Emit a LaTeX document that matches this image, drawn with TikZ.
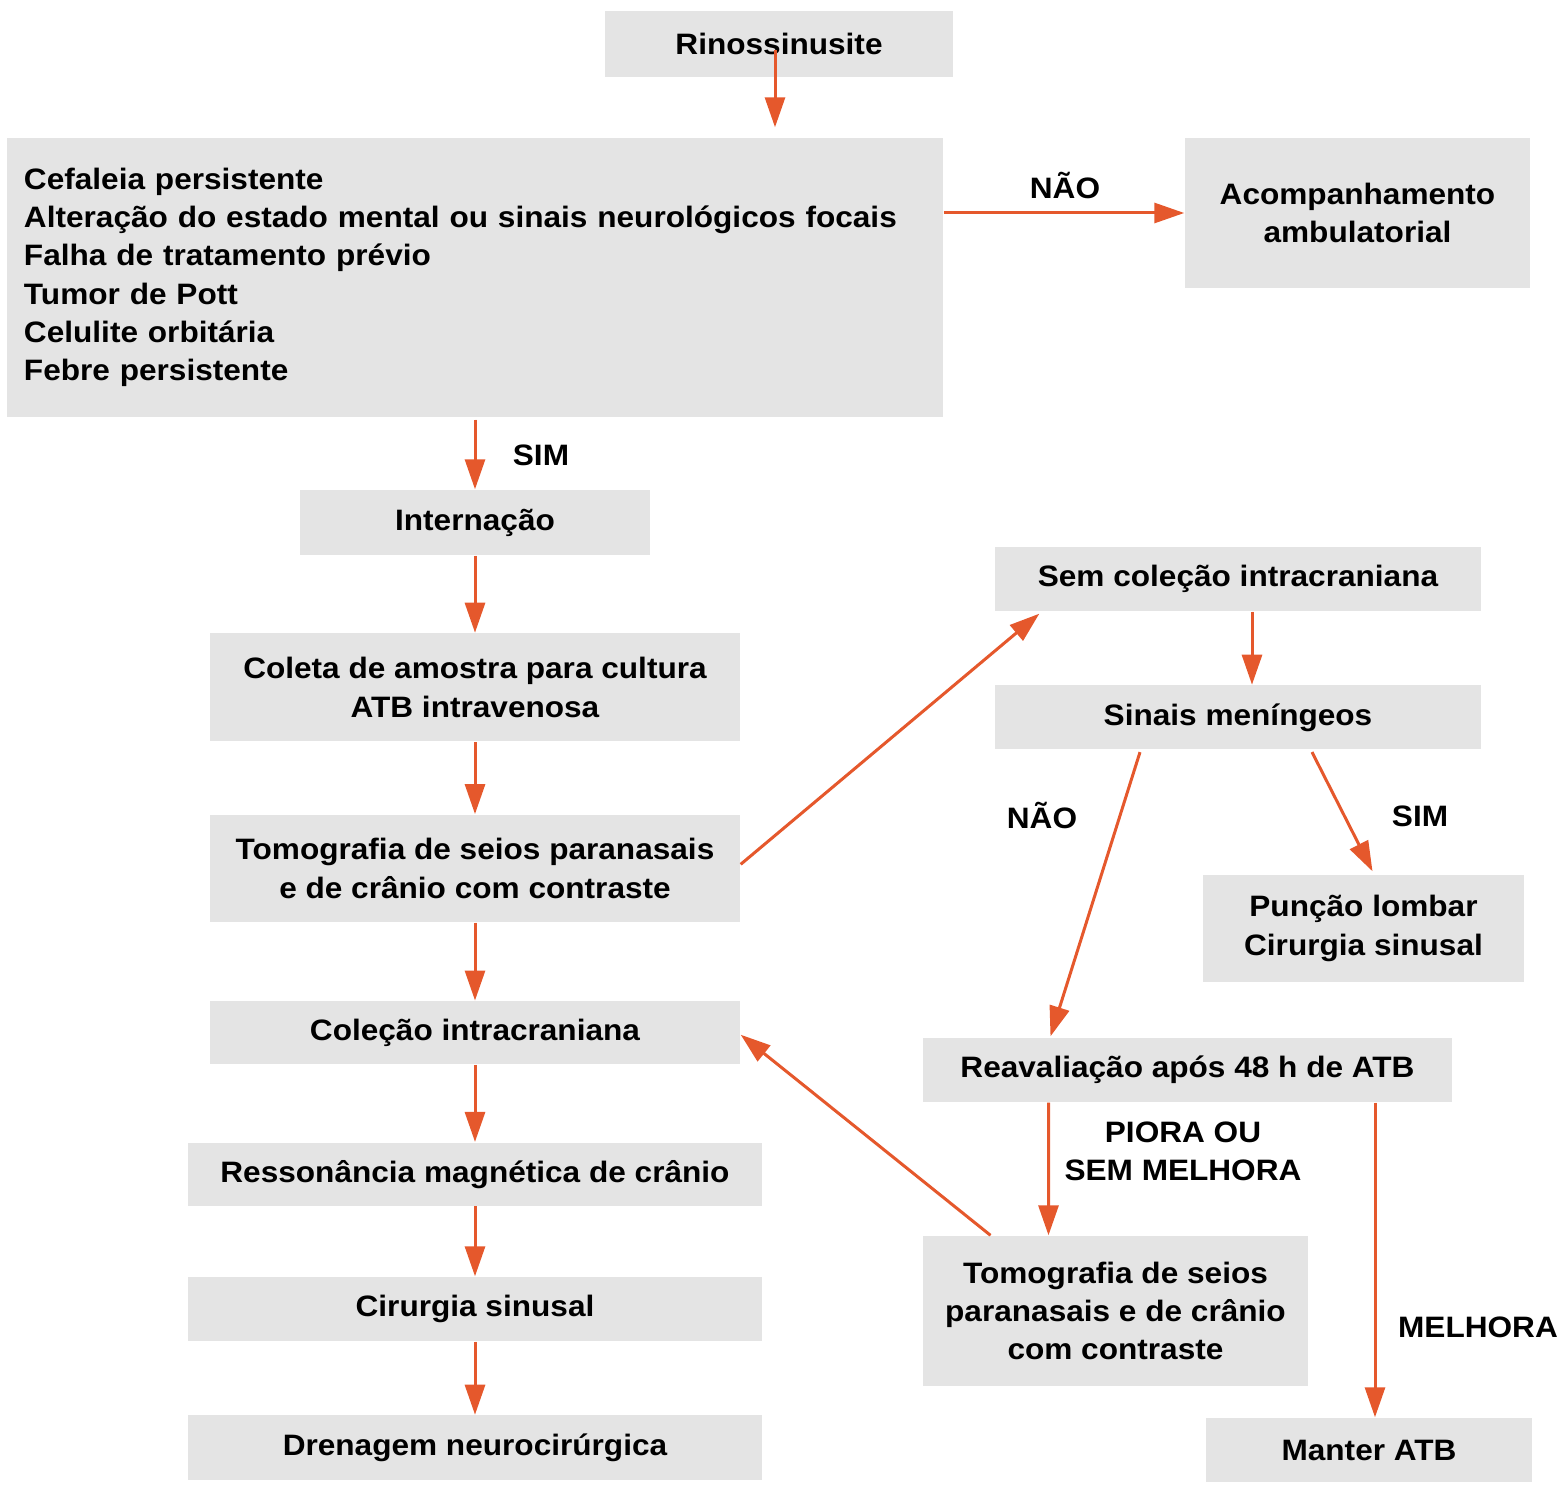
\documentclass[tikz,border=0pt]{standalone}
\usepackage{fontspec}
\setmainfont{Liberation Sans}[FakeStretch=1.07]
\usepackage{tikz}
\usetikzlibrary{arrows.meta, positioning, calc}

\definecolor{boxgray}{RGB}{228,228,228}
\definecolor{arrowred}{RGB}{229,88,44}

\begin{document}
\begin{tikzpicture}[
    % Styles
    flowbox/.style={fill=boxgray, inner sep=0pt, align=center, font=\fontsize{8.4}{10.9}\selectfont\bfseries},
    flowlabel/.style={inner sep=0pt, align=center, font=\fontsize{8.4}{10.9}\selectfont\bfseries},
    flowarrow/.style={-{Triangle[length=0.3cm, width=0.2cm]}, draw=arrowred, fill=arrowred, line width=0.03cm},
    node distance=0.75cm
]
    \useasboundingbox (0,0) rectangle (15.61,-14.87);

    % Top: Rinossinusite and criteria
    \node[flowbox, minimum width=3.48cm, minimum height=0.66cm] (rino) at (7.79,-0.44) {Rinossinusite};
    \node[flowbox, minimum width=9.36cm, minimum height=2.79cm, text width=9.02cm, align=left] (criteria) at (4.75,-2.775)
        {Cefaleia persistente\\Altera\c{c}\~ao do estado mental ou sinais neurol\'ogicos focais\\Falha de tratamento pr\'evio\\Tumor de Pott\\Celulite orbit\'aria\\Febre persistente};
    \node[flowbox, minimum width=3.45cm, minimum height=1.50cm] (acomp) at (13.575,-2.13) {Acompanhamento\\ambulatorial};

    % Left column (SIM branch)
    \node[flowbox, minimum width=3.5cm, minimum height=0.65cm] (internacao) at (4.75,-5.225) {Interna\c{c}\~ao};
    \node[flowbox, minimum width=5.3cm, minimum height=1.08cm, below=0.77cm of internacao] (coleta) {Coleta de amostra para cultura\\ATB intravenosa};
    \node[flowbox, minimum width=5.3cm, minimum height=1.07cm, below=0.72cm of coleta] (tomo) {Tomografia de seios paranasais\\e de cr\^anio com contraste};
    \node[flowbox, minimum width=5.3cm, minimum height=0.63cm, below=0.78cm of tomo] (colecao) {Cole\c{c}\~ao intracraniana};
    \node[flowbox, minimum width=5.74cm, minimum height=0.63cm, below=0.77cm of colecao] (resson) {Resson\^ancia magn\'etica de cr\^anio};
    \node[flowbox, minimum width=5.74cm, minimum height=0.64cm, below=0.70cm of resson] (cirurgia) {Cirurgia sinusal};
    \node[flowbox, minimum width=5.74cm, minimum height=0.65cm, below=0.73cm of cirurgia] (drenagem) {Drenagem neurocir\'urgica};

    % Right column
    \node[flowbox, minimum width=4.86cm, minimum height=0.64cm] (semcol) at (12.38,-5.79) {Sem cole\c{c}\~ao intracraniana};
    \node[flowbox, minimum width=4.86cm, minimum height=0.64cm, below=0.73cm of semcol] (sinais) {Sinais men\'ingeos};
    \node[flowbox, minimum width=3.21cm, minimum height=1.07cm] (puncao) at (13.635,-9.285) {Pun\c{c}\~ao lombar\\Cirurgia sinusal};
    \node[flowbox, minimum width=5.29cm, minimum height=0.64cm] (reaval) at (11.875,-10.70) {Reavalia\c{c}\~ao ap\'os 48 h de ATB};
    \node[flowbox, minimum width=3.85cm, minimum height=1.50cm] (tomob) at (11.155,-13.11) {Tomografia de seios\\paranasais e de cr\^anio\\com contraste};
    \node[flowbox, minimum width=3.26cm, minimum height=0.64cm] (manter) at (13.69,-14.50) {Manter ATB};

    % Labels
    \node[flowlabel] (naoA) at (10.65,-1.86) {N\~AO};
    \node[flowlabel] (simA) at (5.41,-4.55) {SIM};
    \node[flowlabel] (naoB) at (10.42,-8.16) {N\~AO};
    \node[flowlabel] (simB) at (14.20,-8.16) {SIM};
    \node[flowlabel] (piora) at (11.83,-11.51) {PIORA OU\\SEM MELHORA};
    \node[flowlabel] (melhora) at (14.78,-13.27) {MELHORA};

    % Arrows
    \draw[flowarrow] ([xshift=-0.04cm, yshift=-0.06cm]rino.center) -- ([xshift=-0.04cm, yshift=0.1cm]rino.center |- criteria.north);
    \draw[flowarrow] (acomp.west -| criteria.east) -- (acomp.west);
    \draw[flowarrow] ([yshift=-0.02cm]criteria.south) -- (internacao.north);
    \draw[flowarrow] (internacao.south) -- (coleta.north);
    \draw[flowarrow] (coleta.south) -- (tomo.north);
    \draw[flowarrow] (tomo.south) -- (colecao.north);
    \draw[flowarrow] (colecao.south) -- (resson.north);
    \draw[flowarrow] (resson.south) -- (cirurgia.north);
    \draw[flowarrow] (cirurgia.south) -- (drenagem.north);
    \draw[flowarrow] ([yshift=0.04cm]tomo.east) -- ([xshift=0.45cm, yshift=-0.02cm]semcol.south west);
    \draw[flowarrow] ([xshift=0.14cm]semcol.south) -- ([xshift=0.14cm]sinais.north);
    \draw[flowarrow] ([xshift=-0.98cm, yshift=-0.02cm]sinais.south) -- ([xshift=-1.37cm, yshift=0.01cm]reaval.north);
    \draw[flowarrow] ([xshift=0.74cm, yshift=-0.02cm]sinais.south) -- ([xshift=0.09cm, yshift=0.03cm]puncao.north);
    \draw[flowarrow] ([xshift=-1.39cm]reaval.south) -- ([xshift=-0.67cm]tomob.north);
    \draw[flowarrow] ([xshift=0.06cm]reaval.south -| manter.north) -- ([xshift=0.06cm]manter.north);
    \draw[flowarrow] ([xshift=-1.25cm]tomob.north) -- ([yshift=-0.02cm]colecao.east);
\end{tikzpicture}
\end{document}
